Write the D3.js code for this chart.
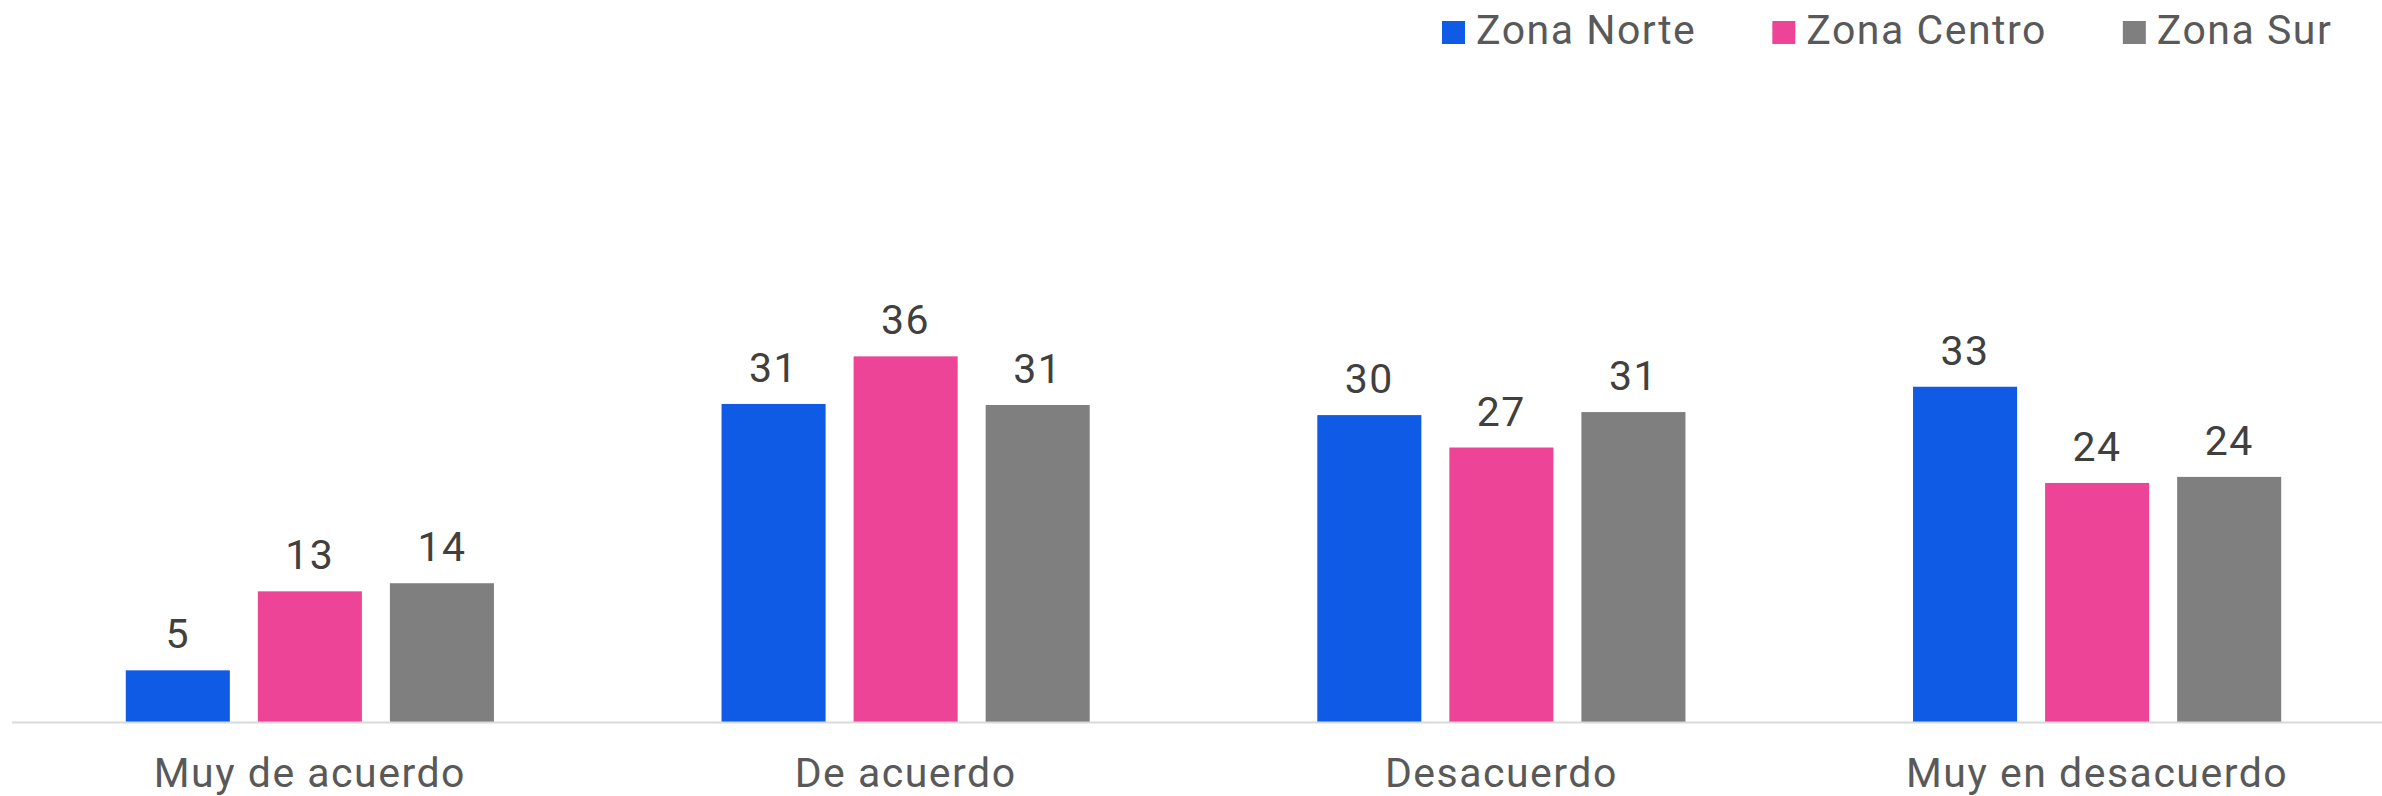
<!DOCTYPE html>
<html>
<head>
<meta charset="utf-8">
<script src="https://cdn.jsdelivr.net/npm/d3@7"></script>
<style>
    html, body { margin: 0; padding: 0; background: #ffffff; }
    svg { display: block; font-family: Roboto, "Noto Sans", sans-serif; letter-spacing: 1.5px; }
</style>
</head>
<body>
<div id="plot"></div>
<script>
// Data (bar heights estimated, labels rounded).
var categories = ["Muy de acuerdo", "De acuerdo", "Desacuerdo", "Muy en desacuerdo"];
var series_names = ["Zona Norte", "Zona Centro", "Zona Sur"];
var zona_norte = [5.1, 31.4, 30.3, 33.1];
var zona_centro = [12.9, 36.1, 27.1, 23.6];
var zona_sur = [13.7, 31.3, 30.6, 24.2];
var series_colors = ["#0f5be5", "#ed4497", "#7f7f7f"];

let BarChart = class {
    // Canvas dimensions.
    width = 2382; height = 796;

    // Plot area (the original plot runs a bit past the right edge).
    left = 12; right = 2395; bottom = 722; top = 13;

    constructor() {
        this.svg = d3.select("div#plot").append("svg")
            .attr("width", this.width)
            .attr("height", this.height)
            .attr("viewBox", "0 0 " + this.width + " " + this.height);

        this.rows = categories.map((c, i) => ({
            category: c,
            values: [zona_norte[i], zona_centro[i], zona_sur[i]]
        }));
    }

    get x_scale() {
        return d3.scaleBand()
            .domain(categories)
            .range([this.left, this.right])
            .paddingInner(0.382)
            .paddingOuter(0.191);
    }

    get x_sub_scale() {
        return d3.scaleBand()
            .domain(d3.range(series_names.length))
            .range([0, this.x_scale.bandwidth()])
            .paddingInner(0.212);
    }

    get y_scale() {
        return d3.scaleLinear()
            .domain([0, 70])
            .range([this.bottom, this.top]);
    }

    draw() {
        this.draw_bars();
        this.draw_x_axis();
        this.draw_legend();
    }

    draw_bars() {
        var x = this.x_scale, xs = this.x_sub_scale, y = this.y_scale;

        var groups = this.svg.append("g")
            .attr("id", "bars")
            .selectAll("g")
                .data(this.rows)
                .join("g")
                    .attr("transform", d => "translate(" + x(d.category) + ", 0)");

        groups.selectAll("rect")
            .data(d => d.values)
            .join("rect")
                .attr("x", (d, i) => xs(i))
                .attr("y", d => y(d))
                .attr("width", xs.bandwidth())
                .attr("height", d => y(0) - y(d))
                .style("fill", (d, i) => series_colors[i]);

        // Value labels sit 22px above each bar.
        groups.selectAll("text")
            .data(d => d.values)
            .join("text")
                .attr("x", (d, i) => xs(i) + xs.bandwidth() / 2)
                .attr("y", d => y(d) - 22)
                .attr("text-anchor", "middle")
                .style("font-size", "41px")
                .style("fill", "#404040")
                .text(d => Math.round(d));
    }

    draw_x_axis() {
        var axis = this.svg.append("g")
            .attr("id", "x_axis")
            .attr("transform", "translate(0, " + this.bottom + ")")
            .call(d3.axisBottom(this.x_scale).tickSize(0).tickPadding(0));

        axis.select(".domain")
            .attr("d", "M" + this.left + ",0.5H" + this.right)
            .style("stroke", "#d9d9d9")
            .style("stroke-width", 2);

        // Note: the descenders touch the bottom edge, as in the original.
        axis.selectAll(".tick text")
            .attr("dy", null)
            .attr("y", 65)
            .style("font-family", "Roboto, 'Noto Sans', sans-serif")
            .style("font-size", "41px")
            .style("fill", "#595959");
    }

    draw_legend() {
        // Items flow left to right: swatch, 11px gap, name, 76px gap.
        var legend = this.svg.append("g").attr("id", "legend");
        var pos = 1442;

        series_names.forEach((name, i) => {
            legend.append("rect")
                .attr("x", pos).attr("y", 21)
                .attr("width", 23).attr("height", 23)
                .style("fill", series_colors[i]);

            var t = legend.append("text")
                .attr("x", pos + 34).attr("y", 44)
                .style("font-size", "41px")
                .style("fill", "#595959")
                .text(name);

            pos += 34 + t.node().getComputedTextLength() + 76;
        });
    }
}

var chart = new BarChart();
chart.draw();
</script>
</body>
</html>
